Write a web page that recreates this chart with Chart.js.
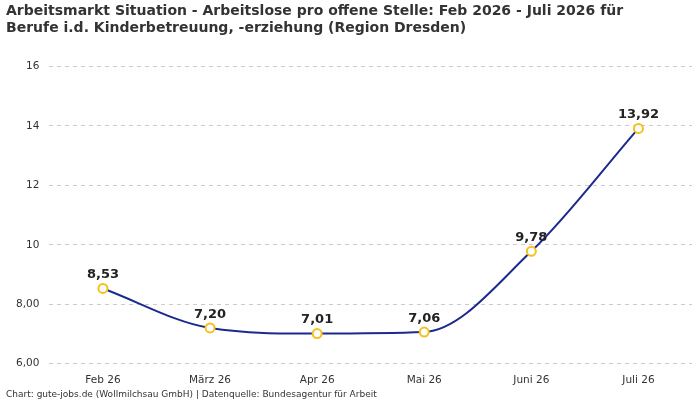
<!DOCTYPE html>
<html><head><meta charset="utf-8">
<script src="https://cdn.jsdelivr.net/npm/chart.js@4"></script>
<style>body{margin:0;background:#fff}#wrap{width:700px;height:400px}</style>
</head><body>
<div id="wrap"><canvas id="c"></canvas></div>
<script>
const months = ["Feb 26","März 26","Apr 26","Mai 26","Juni 26","Juli 26"];
const values = [8.53, 7.20, 7.01, 7.06, 9.78, 13.92];
const tickLabels = {6:"6,00", 8:"8,00", 10:"10", 12:"12", 14:"14", 16:"16"};

const valueLabels = {
  id: "valueLabels",
  afterDatasetsDraw(chart) {
    const ctx = chart.ctx;
    ctx.save();
    ctx.font = "bold 13px 'DejaVu Sans', sans-serif";
    ctx.fillStyle = "#222";
    ctx.textAlign = "center";
    ctx.textBaseline = "bottom";
    chart.getDatasetMeta(0).data.forEach((p, i) => {
      ctx.fillText(values[i].toFixed(2).replace(".", ","), p.x, p.y - 7);
    });
    ctx.restore();
  }
};

new Chart(document.getElementById("c"), {
  type: "line",
  data: {
    labels: months,
    datasets: [{
      data: values,
      borderColor: "#1b2a8f",
      borderWidth: 2,
      tension: 0.4,
      cubicInterpolationMode: "monotone",
      pointBackgroundColor: "#fff",
      pointBorderColor: "#f4c21b",
      pointBorderWidth: 2,
      pointRadius: 4.5
    }]
  },
  options: {
    responsive: true, maintainAspectRatio: false, animation: false,
    layout: {padding: {left: 6, right: 8, top: 3, bottom: 0}},
    plugins: {
      legend: {display: false},
      tooltip: {enabled: false},
      title: {
        display: true, align: "start",
        text: ["Arbeitsmarkt Situation - Arbeitslose pro offene Stelle: Feb 2026 - Juli 2026 für",
               "Berufe i.d. Kinderbetreuung, -erziehung (Region Dresden)"],
        font: {family: "'DejaVu Sans', sans-serif", size: 14, weight: "bold"},
        color: "#333", padding: {top: 0, bottom: 30}
      },
      subtitle: {
        display: true, position: "bottom", align: "start",
        text: "Chart: gute-jobs.de (Wollmilchsau GmbH) | Datenquelle: Bundesagentur für Arbeit",
        font: {family: "'DejaVu Sans', sans-serif", size: 9},
        color: "#333", padding: {top: 1, bottom: 0}
      }
    },
    scales: {
      x: {
        offset: true,
        grid: {display: false},
        border: {display: false},
        ticks: {padding: 2, font: {family: "'DejaVu Sans', sans-serif", size: 10.5}, color: "#333"}
      },
      y: {
        min: 6, max: 16,
        grid: {color: "#ccc", drawTicks: false},
        border: {display: false, dash: [4, 4]},
        ticks: {stepSize: 2, padding: 10, callback: v => tickLabels[v],
                font: {family: "'DejaVu Sans', sans-serif", size: 10.5}, color: "#333"}
      }
    }
  },
  plugins: [valueLabels]
});
</script>
</body></html>
